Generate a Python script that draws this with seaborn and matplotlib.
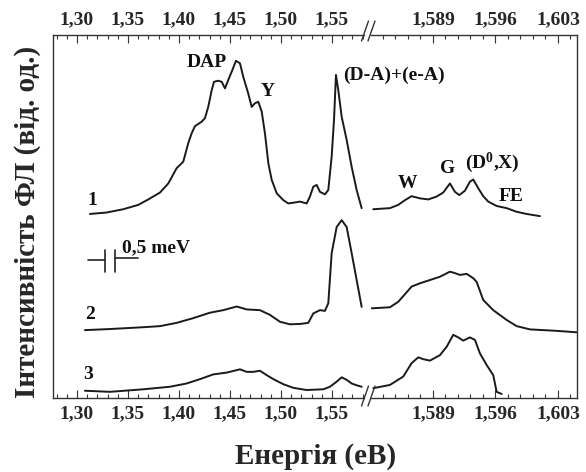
import matplotlib
matplotlib.use("Agg")
import matplotlib.pyplot as plt
import pandas as pd
import seaborn as sns
from matplotlib.ticker import FixedLocator, FixedFormatter, MultipleLocator
from matplotlib.lines import Line2D

# ---------------------------------------------------------------- data
# Photon energy (eV) and PL intensity (arb. units, spectra offset vertically)
# Left panel: wide range 1.28 - 1.58 eV
e1_left = [1.3127, 1.3291, 1.3454, 1.3601, 1.3699, 1.3814, 1.3895, 1.3977, 1.4042,
           1.4091, 1.4124, 1.4157, 1.4222, 1.4255, 1.4287, 1.4321, 1.4343, 1.4385,
           1.4419, 1.4451, 1.4483, 1.4517, 1.4559, 1.4598, 1.4630, 1.4679, 1.4713,
           1.4745, 1.4778, 1.4811, 1.4843, 1.4876, 1.4909, 1.4958, 1.5023, 1.5072,
           1.5121, 1.5186, 1.5252, 1.5284, 1.5317, 1.5350, 1.5382, 1.5431, 1.5464,
           1.5497, 1.5520, 1.5539, 1.5562, 1.5595, 1.5644, 1.5693, 1.5742, 1.5791]
i1_left = [50.7, 51.1, 52.0, 53.2, 54.7, 56.6, 59.1, 63.3, 65.1,
           70.2, 72.9, 74.9, 76.1, 77.1, 80.2, 84.8, 87.1, 87.4,
           87.1, 85.3, 87.6, 89.9, 92.9, 92.2, 88.5, 83.9, 80.2,
           81.2, 81.6, 78.9, 72.9, 64.7, 60.1, 56.4, 54.5, 53.6,
           53.8, 54.1, 53.6, 55.5, 58.2, 58.7, 56.8, 56.1, 57.3,
           66.5, 76.6, 89.0, 84.8, 77.5, 71.1, 63.7, 57.3, 52.3]

e2_left = [1.3078, 1.3324, 1.3650, 1.3814, 1.3977, 1.4140, 1.4304, 1.4434, 1.4566,
           1.4664, 1.4794, 1.4892, 1.4990, 1.5088, 1.5186, 1.5268, 1.5317, 1.5382,
           1.5431, 1.5464, 1.5497, 1.5546, 1.5595, 1.5644, 1.5693, 1.5742, 1.5791]
i2_left = [18.7, 19.0, 19.5, 19.8, 20.7, 22.0, 23.5, 24.2, 25.2,
           24.4, 24.2, 22.9, 21.0, 20.3, 20.4, 20.7, 23.3, 24.2,
           24.0, 26.1, 39.9, 47.1, 49.0, 47.1, 39.9, 32.5, 25.1]

e3_left = [1.3078, 1.3324, 1.3650, 1.3912, 1.4075, 1.4206, 1.4336, 1.4468, 1.4598,
           1.4664, 1.4728, 1.4794, 1.4860, 1.4925, 1.5023, 1.5121, 1.5252, 1.5415,
           1.5480, 1.5546, 1.5595, 1.5644, 1.5693, 1.5742, 1.5791]
i3_left = [2.0, 1.7, 2.4, 3.1, 4.0, 5.2, 6.5, 7.0, 7.9,
           7.2, 7.2, 7.5, 6.3, 5.2, 3.8, 2.8, 2.2, 2.4,
           3.1, 4.5, 5.7, 5.0, 4.0, 3.5, 3.1]

# Right panel: excitonic range 1.582 - 1.605 eV
e1_right = [1.58231, 1.58418, 1.58511, 1.58586, 1.58661, 1.58754, 1.58847, 1.58941,
            1.59015, 1.59090, 1.59146, 1.59195, 1.59258, 1.59314, 1.59351, 1.59407,
            1.59463, 1.59519, 1.59613, 1.59725, 1.59837, 1.59949, 1.60098]
i1_right = [52.0, 52.3, 53.2, 54.5, 55.6, 55.0, 54.7, 55.5,
            56.6, 59.1, 56.8, 55.9, 57.1, 59.6, 60.2, 57.8,
            55.6, 54.1, 52.9, 52.3, 51.3, 50.7, 50.1]

e2_right = [1.58213, 1.58418, 1.58511, 1.58661, 1.58754, 1.58866, 1.58978, 1.59090,
            1.59146, 1.59202, 1.59277, 1.59351, 1.59389, 1.59463, 1.59575, 1.59725,
            1.59837, 1.59986, 1.60285, 1.60509]
i2_right = [24.7, 25.0, 26.5, 30.7, 31.6, 32.5, 33.4, 34.8,
            34.4, 33.9, 34.2, 33.0, 32.0, 27.0, 24.2, 21.5,
            19.8, 18.9, 18.5, 18.1]

e3_right = [1.58231, 1.58418, 1.58567, 1.58661, 1.58735, 1.58791, 1.58866, 1.58978,
            1.59053, 1.59127, 1.59183, 1.59239, 1.59314, 1.59370, 1.59426, 1.59501,
            1.59575, 1.59613, 1.59669]
i3_right = [2.7, 3.6, 5.9, 9.6, 11.2, 10.7, 10.3, 11.8,
            14.1, 17.4, 16.7, 15.8, 16.7, 16.0, 12.3, 9.1,
            6.3, 1.7, 1.1]

left_ticks = [1.30, 1.35, 1.40, 1.45, 1.50, 1.55]
left_labels = ["1,30", "1,35", "1,40", "1,45", "1,50", "1,55"]
right_ticks = [1.589, 1.596, 1.603]
right_labels = ["1,589", "1,596", "1,603"]

# ---------------------------------------------------------------- style
sns.set_theme(style="ticks")
plt.rcParams["font.family"] = ["Liberation Serif", "DejaVu Serif"]
plt.rcParams["font.weight"] = "bold"
plt.rcParams["mathtext.fontset"] = "custom"
plt.rcParams["mathtext.rm"] = "Liberation Serif:bold"
plt.rcParams["mathtext.it"] = "Liberation Serif:bold"
plt.rcParams["mathtext.bf"] = "Liberation Serif:bold"

W, H = 586, 472
fig = plt.figure(figsize=(W / 100, H / 100), dpi=100)
fig.patch.set_facecolor("white")


def fx(px):
    return px / W


def fy(py):
    return 1 - py / H


ax_l = fig.add_axes([fx(53), fy(398), fx(364) - fx(53), fy(35) - fy(398)])
ax_r = fig.add_axes([fx(371), fy(398), fx(577) - fx(371), fy(35) - fy(398)])

line_kw = dict(color="#1a1a1a", linewidth=1.4, estimator=None, legend=False)

for e, i in [(e1_left, i1_left), (e2_left, i2_left), (e3_left, i3_left)]:
    sns.lineplot(data=pd.DataFrame({"E": e, "I": i}), x="E", y="I", ax=ax_l, **line_kw)
for e, i in [(e1_right, i1_right), (e2_right, i2_right), (e3_right, i3_right)]:
    sns.lineplot(data=pd.DataFrame({"E": e, "I": i}), x="E", y="I", ax=ax_r, **line_kw)

ax_l.set_xlim(1.2765, 1.5814)
ax_r.set_xlim(1.58206, 1.60513)
for ax in (ax_l, ax_r):
    ax.set_ylim(0, 100)
    ax.set_xlabel("")
    ax.set_ylabel("")
    ax.set_yticks([])
    ax.set_facecolor("none")
    for s in ax.spines.values():
        s.set_color("#333333")
        s.set_linewidth(1.0)
    ax.tick_params(axis="x", which="both", direction="in", top=True, bottom=True,
                   labeltop=True, labelbottom=True, color="#333333", width=0.8,
                   labelsize=14, pad=5)
    ax.tick_params(axis="x", which="major", length=6)
    ax.tick_params(axis="x", which="minor", length=3)

ax_l.spines["right"].set_visible(False)
ax_r.spines["left"].set_visible(False)

ax_l.xaxis.set_major_locator(FixedLocator(left_ticks))
ax_l.xaxis.set_major_formatter(FixedFormatter(left_labels))
ax_l.xaxis.set_minor_locator(MultipleLocator(0.01))
ax_r.xaxis.set_major_locator(FixedLocator(right_ticks))
ax_r.xaxis.set_major_formatter(FixedFormatter(right_labels))
ax_r.xaxis.set_minor_locator(MultipleLocator(0.0014))

# axis-break marks on the top and bottom frame lines
for xc in (365, 371.5):
    for yc in (31, 396):
        fig.add_artist(Line2D([fx(xc - 3.5), fx(xc + 3.5)], [fy(yc + 10), fy(yc - 10)],
                              transform=fig.transFigure, color="#333333", linewidth=1.0))

# peak labels
txt = dict(fontsize=14, fontweight="bold", ha="center", va="center", color="#111111")
ax_l.text(1.4275, 92.3, "DAP", **txt)
ax_l.text(1.4873, 84.3, "Y", **txt)
ax_l.text(1.5608, 89.0, "(D-A)+(e-A)", **{**txt, "ha": "left"}, zorder=10)
ax_r.text(1.5862, 59.2, "W", **txt)
ax_r.text(1.5906, 63.1, "G", **txt)
ax_r.text(1.5956, 64.7, r"(D$^{0}$,X)", **txt)
ax_r.text(1.5978, 55.4, "FE", **txt)

# spectrum numbers
ax_l.text(1.3147, 54.5, "1", **txt)
ax_l.text(1.3127, 22.9, "2", **txt)
ax_l.text(1.3108, 6.6, "3", **txt)

# spectral resolution marker
bar = dict(color="#222222", linewidth=1.2)
ax_l.plot([1.3108, 1.3275], [38.0, 38.0], **bar)
ax_l.plot([1.3275, 1.3275], [34.7, 40.8], **bar)
ax_l.plot([1.3373, 1.3373], [34.7, 40.8], **bar)
ax_l.plot([1.3373, 1.3598], [38.6, 38.6], **bar)
ax_l.text(1.3441, 41.3, "0,5 meV", **{**txt, "ha": "left"})

fig.text(fx(316), fy(456), "Енергія (еВ)", fontsize=21, fontweight="bold",
         ha="center", va="center")
fig.text(fx(28), fy(222), "Інтенсивність ФЛ (від. од.)", fontsize=21,
         fontweight="bold", ha="center", va="center", rotation=90)

fig.savefig("out.png", dpi=100, facecolor="white")
